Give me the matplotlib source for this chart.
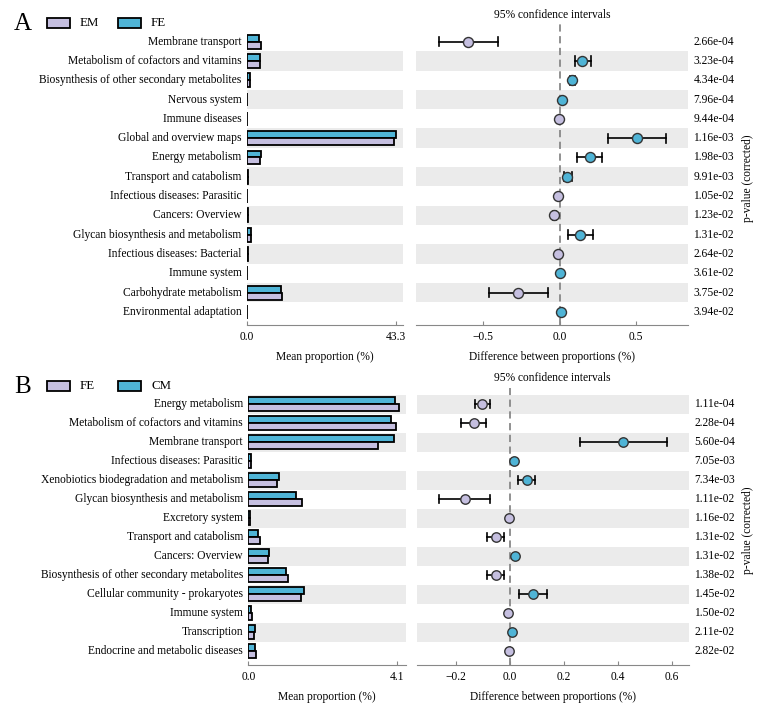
import matplotlib
matplotlib.use("Agg")
import matplotlib.pyplot as plt
from matplotlib.patches import Rectangle
import numpy as np

plt.rcParams['font.family'] = ['Liberation Serif', 'DejaVu Serif']

# ---------------- Panel A data ----------------
a_groups = ["EM", "FE"]
a_categories = ["Membrane transport", "Metabolism of cofactors and vitamins",
                "Biosynthesis of other secondary metabolites", "Nervous system",
                "Immune diseases", "Global and overview maps", "Energy metabolism",
                "Transport and catabolism", "Infectious diseases: Parasitic",
                "Cancers: Overview", "Glycan biosynthesis and metabolism",
                "Infectious diseases: Bacterial", "Immune system",
                "Carbohydrate metabolism", "Environmental adaptation"]
a_mean_g1 = [4.07, 3.75, 0.82, 0.10, 0.08, 42.8, 3.87, 0.35, 0.10, 0.42, 1.15, 0.40, 0.10, 10.10, 0.12]  # EM
a_mean_g2 = [3.49, 3.90, 0.90, 0.12, 0.07, 43.3, 4.07, 0.40, 0.09, 0.38, 1.28, 0.39, 0.10, 9.83, 0.13]   # FE
a_diff = [-0.599, 0.148, 0.081, 0.017, -0.006, 0.503, 0.196, 0.050, -0.013, -0.035, 0.135, -0.013, 0.004, -0.270, 0.011]
a_ci_low = [-0.790, 0.098, 0.065, 0.010, -0.012, 0.316, 0.115, 0.026, -0.019, -0.045, 0.052, -0.020, -0.002, -0.462, 0.005]
a_ci_high = [-0.403, 0.207, 0.100, 0.024, 0.000, 0.693, 0.277, 0.081, -0.007, -0.025, 0.218, -0.006, 0.010, -0.074, 0.017]
a_pvals = ["2.66e-04", "3.23e-04", "4.34e-04", "7.96e-04", "9.44e-04", "1.16e-03",
           "1.98e-03", "9.91e-03", "1.05e-02", "1.23e-02", "1.31e-02", "2.64e-02",
           "3.61e-02", "3.75e-02", "3.94e-02"]
a_bar_ticks = [0.0, 43.3]
a_diff_ticks = [-0.5, 0.0, 0.5]

# ---------------- Panel B data ----------------
b_groups = ["FE", "CM"]
b_categories = ["Energy metabolism", "Metabolism of cofactors and vitamins",
                "Membrane transport", "Infectious diseases: Parasitic",
                "Xenobiotics biodegradation and metabolism",
                "Glycan biosynthesis and metabolism", "Excretory system",
                "Transport and catabolism", "Cancers: Overview",
                "Biosynthesis of other secondary metabolites",
                "Cellular community - prokaryotes", "Immune system",
                "Transcription", "Endocrine and metabolic diseases"]
b_mean_g1 = [4.16, 4.08, 3.59, 0.06, 0.78, 1.48, 0.03, 0.33, 0.55, 1.08, 1.44, 0.09, 0.16, 0.20]  # FE
b_mean_g2 = [4.05, 3.93, 4.01, 0.07, 0.84, 1.30, 0.03, 0.27, 0.57, 1.03, 1.53, 0.08, 0.17, 0.19]  # CM
b_diff = [-0.102, -0.133, 0.420, 0.015, 0.062, -0.167, -0.004, -0.053, 0.019, -0.053, 0.085, -0.006, 0.009, -0.002]
b_ci_low = [-0.131, -0.180, 0.259, 0.010, 0.031, -0.262, -0.008, -0.085, 0.013, -0.086, 0.035, -0.010, 0.004, -0.006]
b_ci_high = [-0.074, -0.088, 0.580, 0.020, 0.093, -0.073, 0.000, -0.020, 0.025, -0.021, 0.136, -0.002, 0.014, 0.002]
b_pvals = ["1.11e-04", "2.28e-04", "5.60e-04", "7.05e-03", "7.34e-03", "1.11e-02",
           "1.16e-02", "1.31e-02", "1.31e-02", "1.38e-02", "1.45e-02", "1.50e-02",
           "2.11e-02", "2.82e-02"]
b_bar_ticks = [0.0, 4.1]
b_diff_ticks = [-0.2, 0.0, 0.2, 0.4, 0.6]

COL1 = "#c5bfe0"   # lavender
COL2 = "#4fb4d6"   # blue
BAND = "#ebebeb"
FS = 8.3

W, H = 764, 710
fig = plt.figure(figsize=(W / 100, H / 100), dpi=100)


def ax_at(x0, y0, x1, y1):
    return fig.add_axes([x0 / W, 1 - y1 / H, (x1 - x0) / W, (y1 - y0) / H])


def panel(letter, groups, cats, m1, m2, diff, lo, hi, pvals, bar_ticks, diff_ticks,
          bar_box, diff_box, bar_xlim, diff_xlim, ylim, legend_y, letter_y, ms, cap):
    n = len(cats)
    y = np.arange(n)
    axb = ax_at(*bar_box)
    axd = ax_at(*diff_box)
    for ax, xl in ((axb, bar_xlim), (axd, diff_xlim)):
        ax.set_xlim(*xl)
        ax.set_ylim(*ylim)
        for i in range(n):
            if (n - 1 - i) % 2 == 1:
                ax.axhspan(i - 0.5, i + 0.5, color=BAND, lw=0, zorder=0)
        for s in ("top", "right", "left"):
            ax.spines[s].set_visible(False)
        ax.spines["bottom"].set_color("#888888")
        ax.spines["bottom"].set_linewidth(0.8)
        ax.tick_params(axis="x", direction="in", length=3, color="#888888",
                       labelsize=FS, pad=4)
        ax.set_yticks([])
    # bars
    bh = 0.36
    axb.barh(y - bh / 2, m2, height=bh, color=COL2, edgecolor="black", lw=1.3, zorder=2)
    axb.barh(y + bh / 2, m1, height=bh, color=COL1, edgecolor="black", lw=1.3, zorder=2)
    axb.set_xticks(bar_ticks)
    axb.set_xticklabels([f"{t:.1f}" for t in bar_ticks])
    axb.set_xlabel("Mean proportion (%)", fontsize=FS, labelpad=6)
    for i, c in enumerate(cats):
        axb.text(-0.035, i, c, transform=axb.get_yaxis_transform(), ha="right",
                 va="center", fontsize=FS)
    # diffs
    axd.axvline(0, ymin=0, ymax=1.025, color="#888888", ls=(0, (4, 2.5)), lw=1.3,
                zorder=1, clip_on=False)
    for i in range(n):
        axd.plot([lo[i], hi[i]], [i, i], color="black", lw=1.2, zorder=2)
        if hi[i] - lo[i] > 0.015:
            for xv in (lo[i], hi[i]):
                axd.plot([xv, xv], [i - cap, i + cap], color="black", lw=1.2, zorder=2)
        axd.plot(diff[i], i, "o", ms=ms, mfc=COL2 if diff[i] > 0 else COL1,
                 mec="#333333", mew=1.0, zorder=3)
    axd.set_xticks(diff_ticks)
    axd.set_xticklabels([f"{t:.1f}".replace("-", "\u2212") for t in diff_ticks])
    axd.set_xlabel("Difference between proportions (%)", fontsize=FS, labelpad=6)
    axd.set_title("95% confidence intervals", fontsize=FS, pad=10)
    for i, p in enumerate(pvals):
        axd.text(1.02, i, p, transform=axd.get_yaxis_transform(), ha="left",
                 va="center", fontsize=FS)
    yc = (diff_box[1] + diff_box[3]) / 2
    fig.text(748 / W, 1 - yc / H, "p-value (corrected)", rotation=90,
             ha="center", va="center", fontsize=FS)
    # letter + legend
    fig.text(14 / W, 1 - letter_y / H, letter, fontsize=18, ha="left", va="center")
    lx = [47, 118]
    for k, (g, col) in enumerate(zip(groups, (COL1, COL2))):
        fig.patches.append(Rectangle(((lx[k]) / W, 1 - (legend_y + 5) / H), 23 / W, 10 / H,
                                     transform=fig.transFigure, facecolor=col,
                                     edgecolor="black", lw=1.3))
        fig.text((lx[k] + 33) / W, 1 - legend_y / H, g, fontsize=FS + 1, ha="left",
                 va="center")


panel("A", a_groups, a_categories, a_mean_g1, a_mean_g2, a_diff, a_ci_low, a_ci_high,
      a_pvals, a_bar_ticks, a_diff_ticks,
      (247, 31.5, 403, 325), (416, 31.5, 688, 325), (0, 45.3), (-0.94, 0.84),
      (14.67, -0.52), 23, 24, 7.2, 0.24)
panel("B", b_groups, b_categories, b_mean_g1, b_mean_g2, b_diff, b_ci_low, b_ci_high,
      b_pvals, b_bar_ticks, b_diff_ticks,
      (248.5, 394.5, 406, 665), (416.7, 394.5, 688.7, 665), (0, 4.35), (-0.345, 0.662),
      (13.72, -0.5), 386, 387, 6.8, 0.2)

fig.savefig("out.png", dpi=100, facecolor="white")
